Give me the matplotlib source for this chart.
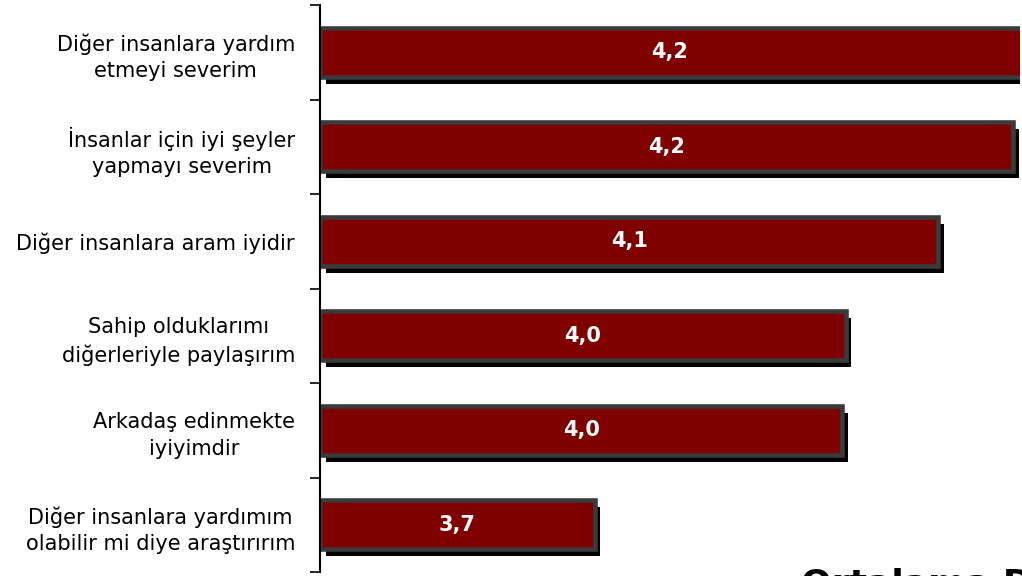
import matplotlib.pyplot as plt
import matplotlib.patheffects as pe

# Statements (top to bottom) and mean scores
labels = ['Diğer insanlara yardım\netmeyi severim',
          'İnsanlar için iyi şeyler\nyapmayı severim',
          'Diğer insanlara aram iyidir',
          'Sahip olduklarımı\ndiğerleriyle paylaşırım',
          'Arkadaş edinmekte\niyiyimdir',
          'Diğer insanlara yardımım\nolabilir mi diye araştırırım']
values = [4.23, 4.207, 4.12, 4.012, 4.008, 3.72]
value_text = ['4,2', '4,2', '4,1', '4,0', '4,0', '3,7']

x0, x1 = 3.4, 4.215

fig = plt.figure(figsize=(10.22, 5.76), dpi=100)
ax = fig.add_axes([320 / 1022, 4 / 576, 700 / 1022, 567 / 576])

ypos = list(range(len(labels)))[::-1]
bars = ax.barh(ypos, [v - x0 for v in values], left=x0, height=0.52,
               color='#800000', edgecolor='#3a3a3a', linewidth=3.3)
for b in bars:
    b.set_path_effects([pe.SimplePatchShadow(offset=(4, -5), shadow_rgbFace='black', alpha=1.0),
                        pe.Normal()])

for y, v, t in zip(ypos, values, value_text):
    ax.text((x0 + min(v, x1)) / 2, y, t, color='white', fontsize=15,
            fontweight='bold', ha='center', va='center')

ax.set_xlim(x0, x1)
ax.set_ylim(-0.5, len(labels) - 0.5)
ax.set_yticks(ypos)
ax.set_yticklabels(labels, fontsize=15, multialignment='center', linespacing=1.4)
ax.tick_params(axis='y', which='major', length=0, pad=18)
ax.set_yticks([i - 0.5 for i in range(len(labels) + 1)], minor=True)
ax.tick_params(axis='y', which='minor', length=7, width=1.2, direction='out')
ax.set_xticks([])
for s in ['top', 'right', 'bottom']:
    ax.spines[s].set_visible(False)
ax.spines['left'].set_linewidth(1.5)

# axis title sits mostly below the visible area
fig.text(801 / 1022, 1 - 595 / 576, 'Ortalama Değer', fontsize=26,
         fontweight='bold', ha='left', va='baseline')

fig.savefig('out.png', dpi=100)
